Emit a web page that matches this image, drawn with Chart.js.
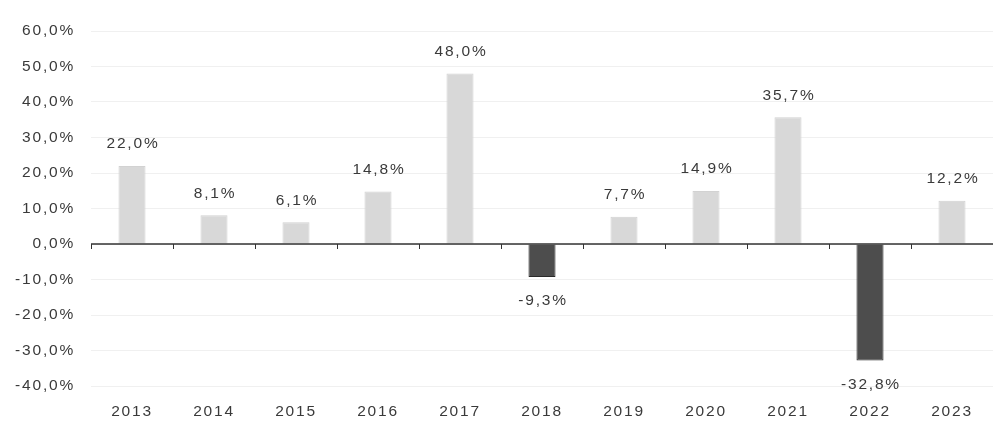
<!DOCTYPE html>
<html><head><meta charset="utf-8">
<script src="https://cdn.jsdelivr.net/npm/chart.js@4"></script>
<style>html,body{margin:0;padding:0;background:#fff;}#wrap{width:993px;height:422px;}</style>
</head><body><div id="wrap"><canvas id="c" width="993" height="422"></canvas></div>
<script>
const categories = ["2013","2014","2015","2016","2017","2018","2019","2020","2021","2022","2023"];
const values = [22.0, 8.1, 6.1, 14.8, 48.0, -9.3, 7.7, 14.9, 35.7, -32.8, 12.2];
const yMin = -40, yMax = 60, yStep = 10;

const fmt = v => v.toFixed(1).replace('.', ',') + '%';
const FONT = '"Liberation Sans", Arial, sans-serif';

const spacingPlugin = {
  id: 'spacing',
  beforeDraw(chart) { chart.ctx.letterSpacing = '1.8px'; }
};

const labelPlugin = {
  id: 'labels',
  afterDatasetsDraw(chart) {
    const ctx = chart.ctx;
    const meta = chart.getDatasetMeta(0);
    ctx.save();
    ctx.letterSpacing = '1.8px';
    ctx.font = '15.5px ' + FONT;
    ctx.fillStyle = '#3a3a3a';
    ctx.textAlign = 'center';
    ctx.textBaseline = 'middle';
    meta.data.forEach((bar, i) => {
      const v = values[i];
      const y = v >= 0 ? bar.y - 22 : bar.y + 24;
      ctx.fillText(fmt(v), bar.x + 1, y);
    });
    const xs = chart.scales.x, ys = chart.scales.y;
    const y0 = ys.getPixelForValue(0);
    ctx.strokeStyle = '#333';
    ctx.lineWidth = 1.5;
    ctx.beginPath();
    ctx.moveTo(chart.chartArea.left, y0);
    ctx.lineTo(chart.chartArea.right, y0);
    ctx.stroke();
    ctx.lineWidth = 1;
    for (let i = 0; i <= categories.length; i++) {
      const x = Math.round(xs.getPixelForValue(i - 0.5)) + 0.5;
      ctx.beginPath();
      ctx.moveTo(x, y0);
      ctx.lineTo(x, y0 + 5);
      ctx.stroke();
    }
    ctx.restore();
  }
};

new Chart(document.getElementById('c'), {
  type: 'bar',
  data: {
    labels: categories,
    datasets: [{
      data: values,
      backgroundColor: values.map(v => v >= 0 ? '#d8d8d8' : '#4d4d4d'),
      borderColor: values.map(v => v >= 0 ? '#d2d2d2' : '#2a2a2a'),
      borderWidth: 1,
      barPercentage: 0.33,
      categoryPercentage: 1.0
    }]
  },
  options: {
    responsive: false,
    animation: false,
    layout: { padding: { top: 31, right: 0, left: 0, bottom: 0 } },
    plugins: { legend: { display: false }, tooltip: { enabled: false } },
    scales: {
      x: {
        grid: { display: false, drawTicks: false },
        border: { display: false },
        ticks: { color: '#3a3a3a', font: { size: 15.5, family: FONT }, padding: 16, maxRotation: 0 },
        afterFit(s) { s.height = 36; }
      },
      y: {
        min: yMin, max: yMax,
        grid: { color: '#f0f0f0', drawTicks: false },
        border: { display: false },
        ticks: {
          stepSize: yStep,
          color: '#3a3a3a',
          padding: 16,
          font: { size: 15.5, family: FONT },
          callback: v => fmt(v)
        },
        afterFit(s) { s.width = 91; }
      }
    }
  },
  plugins: [spacingPlugin, labelPlugin]
});
</script>
</body></html>
